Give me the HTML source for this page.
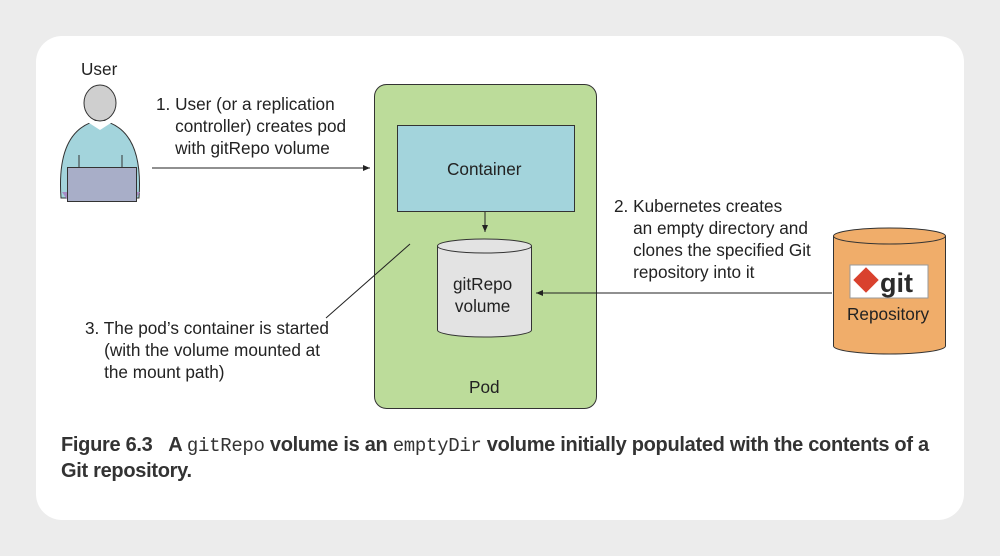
<!DOCTYPE html>
<html><head><style>
body{margin:0;width:1000px;height:556px;background:#ececec;font-family:"Liberation Sans",sans-serif;overflow:hidden}
.card{position:absolute;left:36px;top:36px;width:928px;height:484px;background:#fff;border-radius:26px}
.t{position:absolute;font-size:17.2px;color:#222;line-height:22px;white-space:nowrap}
.cap{position:absolute;left:61px;top:433px;font-size:20px;font-weight:bold;color:#333;line-height:25px;white-space:nowrap;transform:scaleX(1.0);transform-origin:0 0;letter-spacing:-0.3px}
.cap code{font-family:"Liberation Mono",monospace;font-size:19px;font-weight:normal}
</style></head><body>
<div class="card"></div>
<svg width="1000" height="556" style="position:absolute;left:0;top:0">
<defs><marker id="a" markerWidth="8" markerHeight="8" refX="7" refY="4" orient="auto"><path d="M0,1 L7,4 L0,7z" fill="#222"/></marker></defs>
<path d="M61,198 Q56,128 100,120 Q144,128 139,198z" fill="#a3d4dc" stroke="#333"/>
<path d="M86,121 L100,130 L114,121z" fill="#fff"/>
<ellipse cx="100" cy="103" rx="16" ry="18" fill="#cfcfcf" stroke="#333"/>
<path d="M62,192 L140,192 L134,201 L68,201z" fill="#a78bc5"/>
<rect x="67.5" y="167.5" width="69" height="34" fill="#a8aec8" stroke="#333"/>
<line x1="79" y1="155" x2="79" y2="167" stroke="#333"/><line x1="122" y1="155" x2="122" y2="167" stroke="#333"/>
<rect x="374.5" y="84.5" width="222" height="324" rx="12" fill="#bcdc9a" stroke="#333"/>
<rect x="397.5" y="125.5" width="177" height="86" fill="#a3d4dc" stroke="#333"/>
<line x1="485" y1="212" x2="485" y2="232" stroke="#222" marker-end="url(#a)"/>
<path d="M437.5,246 L437.5,330 A47,7 0 0 0 531.5,330 L531.5,246" fill="#e3e3e3" stroke="#333"/>
<ellipse cx="484.5" cy="246" rx="47" ry="7" fill="#e3e3e3" stroke="#333"/>
<path d="M833.5,236 L833.5,346 A56,8 0 0 0 945.5,346 L945.5,236" fill="#f0ad6a" stroke="#333"/>
<ellipse cx="889.5" cy="236" rx="56" ry="8" fill="#f0ad6a" stroke="#333"/>
<rect x="850" y="265" width="78" height="33" fill="#fff" stroke="#999"/>
<rect x="857" y="271" width="18" height="18" fill="#d9412e" transform="rotate(45 866 280)"/>
<text x="880" y="292" font-family="Liberation Sans,sans-serif" font-weight="bold" font-size="27" fill="#2b2b2b">git</text>
<line x1="152" y1="168" x2="370" y2="168" stroke="#222" marker-end="url(#a)"/>
<line x1="832" y1="293" x2="536" y2="293" stroke="#222" marker-end="url(#a)"/>
<line x1="326" y1="318" x2="410" y2="244" stroke="#222"/>
</svg>
<div class="t" style="left:81px;top:58px">User</div>
<div class="t" style="left:156px;top:93px">1. User (or a replication<br>&nbsp;&nbsp;&nbsp;&nbsp;controller) creates pod<br>&nbsp;&nbsp;&nbsp;&nbsp;with gitRepo volume</div>
<div class="t" style="left:447px;top:158px">Container</div>
<div class="t" style="left:453px;top:273px;text-align:center">gitRepo<br>volume</div>
<div class="t" style="left:469px;top:376px">Pod</div>
<div class="t" style="left:614px;top:195px">2. Kubernetes creates<br>&nbsp;&nbsp;&nbsp;&nbsp;an empty directory and<br>&nbsp;&nbsp;&nbsp;&nbsp;clones the specified Git<br>&nbsp;&nbsp;&nbsp;&nbsp;repository into it</div>
<div class="t" style="left:847px;top:303px">Repository</div>
<div class="t" style="left:85px;top:317px">3. The pod’s container is started<br>&nbsp;&nbsp;&nbsp;&nbsp;(with the volume mounted at<br>&nbsp;&nbsp;&nbsp;&nbsp;the mount path)</div>
<div class="cap">Figure 6.3&nbsp;&nbsp;&nbsp;A <code>gitRepo</code> volume is an <code>emptyDir</code> volume initially populated with the contents of a<br>Git repository.</div>
</body></html>
